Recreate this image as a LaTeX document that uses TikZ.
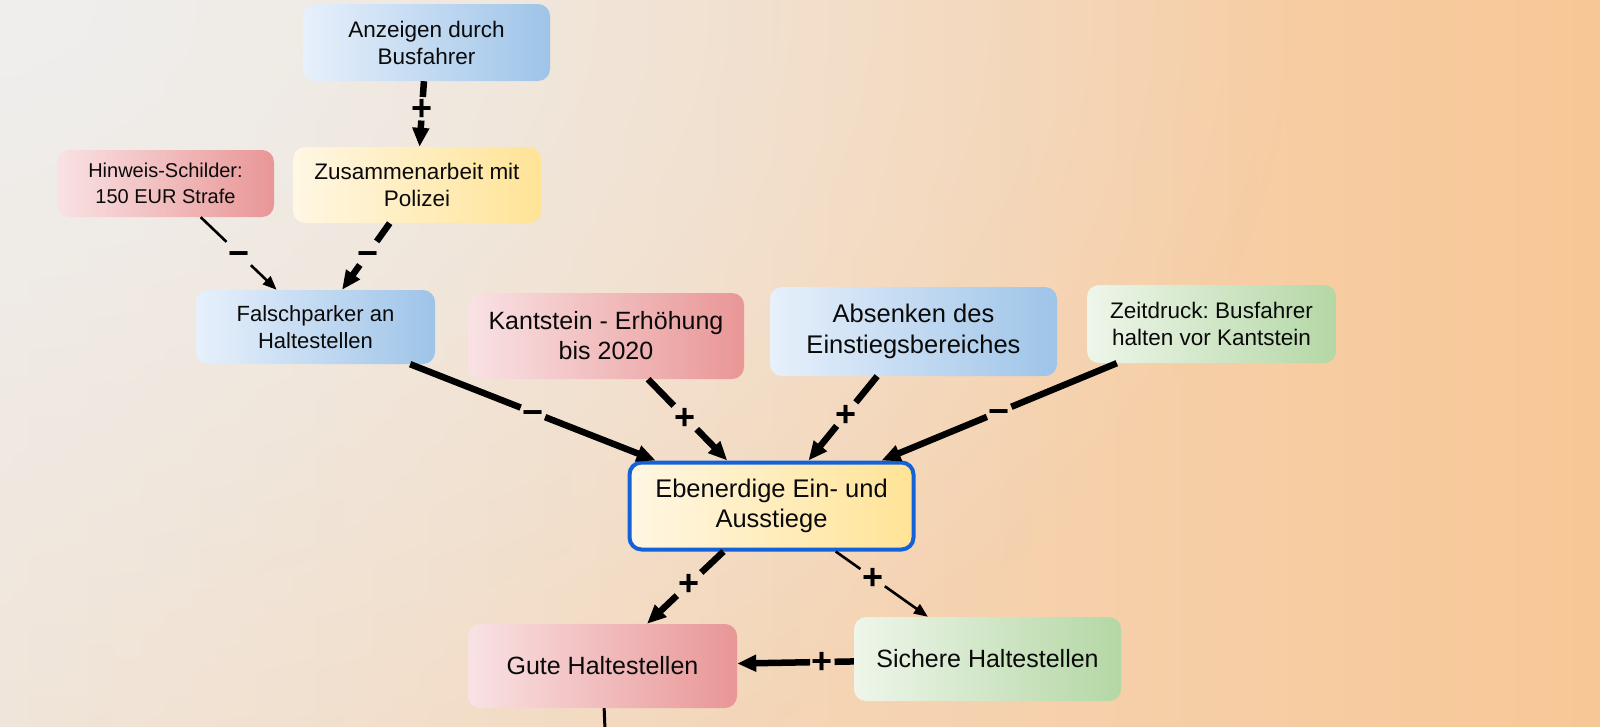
\documentclass[tikz,border=0pt]{standalone}
\usepackage{fontspec}
\setmainfont{Liberation Sans}
\frenchspacing
\usetikzlibrary{arrows.meta,fadings}
\tikzfading[name=tlfade, inner color=transparent!0, outer color=transparent!100]
\definecolor{bgL}{HTML}{F1E3D5}
\definecolor{bgR}{HTML}{F8C796}
\definecolor{bgW}{HTML}{EFEFEE}
\definecolor{blueL}{HTML}{E7F0FB}
\definecolor{blueR}{HTML}{9EC4E8}
\definecolor{redL}{HTML}{F9E2E4}
\definecolor{redR}{HTML}{E99696}
\definecolor{yelL}{HTML}{FFF7E4}
\definecolor{yelR}{HTML}{FFE396}
\definecolor{grnL}{HTML}{EEF6EA}
\definecolor{grnR}{HTML}{B4D7A5}
\definecolor{frameblue}{HTML}{1462DA}
\definecolor{txt}{HTML}{0A0A0A}
\newcommand{\pl}{\raisebox{-0.33em}[0.28em][0.28em]{+}}
\newcommand{\mi}{\raisebox{-0.33em}[0.28em][0.28em]{−}}
\begin{document}
\begin{tikzpicture}[x=1pt,y=-1pt,
  cbox/.style={rounded corners=12pt, align=center, inner sep=0pt, text=txt},
  bluebox/.style={cbox, left color=blueL, right color=blueR},
  redbox/.style={cbox, left color=redL, right color=redR},
  yelbox/.style={cbox, left color=yelL, right color=yelR},
  grnbox/.style={cbox, left color=grnL, right color=grnR},
  lbl/.style={font=\bfseries\fontsize{36}{36}\selectfont, inner sep=1.5pt, text=black},
  thk/.style={line width=6.5pt, draw=black},
  thn/.style={line width=2.6pt, draw=black},
  thkarr/.style={thk, -{Triangle[length=19pt,width=16pt]}},
  thnarr/.style={thn, -{Triangle[length=14pt,width=11pt]}},
]
\useasboundingbox (0,0) rectangle (1600,726);
% background
\shade[left color=bgL, right color=bgR] (0,0) rectangle (1600,726);
\begin{scope}
  \clip (0,0) rectangle (1600,726);
  \fill[bgW, path fading=tlfade] (0,0) ellipse [x radius=1300, y radius=900];
\end{scope}

% nodes
\node[bluebox, minimum width=247pt, minimum height=77pt, font=\fontsize{22.5}{27}\selectfont] (anz) at (426.5,42.5) {Anzeigen durch\\Busfahrer};
\node[yelbox, minimum width=248pt, minimum height=76pt, font=\fontsize{22.5}{27}\selectfont] (zus) at (417,185) {Zusammenarbeit mit\\Polizei};
\node[redbox, minimum width=217pt, minimum height=67pt, font=\fontsize{20}{26}\selectfont] (hin) at (165.5,183.5) {Hinweis-Schilder:\\150 EUR Strafe};
\node[bluebox, minimum width=239pt, minimum height=74pt, font=\fontsize{22}{26.5}\selectfont] (fal) at (315.5,327) {Falschparker an\\Haltestellen};
\node[redbox, minimum width=276pt, minimum height=86pt, font=\fontsize{25}{30}\selectfont] (kan) at (606,336) {Kantstein - Erhöhung\\bis 2020};
\node[bluebox, minimum width=287pt, minimum height=89pt, font=\fontsize{25.5}{30.5}\selectfont] (abs) at (913.5,331.5) {Absenken des\\Einstiegsbereiches};
\node[grnbox, minimum width=249pt, minimum height=78pt, font=\fontsize{22.5}{27.5}\selectfont] (zei) at (1211.5,324) {Zeitdruck: Busfahrer\\halten vor Kantstein};
\node[yelbox, draw=frameblue, line width=4pt, minimum width=284pt, minimum height=87pt, font=\fontsize{25.5}{30.5}\selectfont] (ebe) at (771.5,506) {Ebenerdige Ein- und\\Ausstiege};
\node[redbox, minimum width=269pt, minimum height=84pt, font=\fontsize{25}{30}\selectfont] (gut) at (602.5,666) {Gute Haltestellen};
\node[grnbox, minimum width=267pt, minimum height=84pt, font=\fontsize{25}{30}\selectfont] (sic) at (987.5,659) {Sichere Haltestellen};
\coordinate (gout) at (605,730);

% connector labels
\path (anz) -- node[lbl, pos=.42] (l1) {\pl} (zus);
\path (hin) -- node[lbl, pos=.5] (l2) {\mi} (fal);
\path (zus) -- node[lbl, pos=.45] (l3) {\mi} (fal);
\path (fal) -- node[lbl, pos=.5] (l4) {\mi} (ebe);
\path (kan) -- node[lbl, pos=.47] (l5) {\pl} (ebe);
\path (abs) -- node[lbl, pos=.45] (l6) {\pl} (ebe);
\path (zei) -- node[lbl, pos=.5] (l7) {\mi} (ebe);
\path (ebe) -- node[lbl, pos=.45] (l8) {\pl} (gut);
\path (ebe) -- node[lbl, pos=.4] (l9) {\pl} (sic);
\path (sic) -- node[lbl, pos=.27] (l10) {\pl} (gut);

% connectors
\draw[thk] (anz) -- (l1); \draw[thkarr] (l1) -- (zus);
\draw[thn] (hin) -- (l2); \draw[thnarr] (l2) -- (fal);
\draw[thk] (zus) -- (l3); \draw[thkarr] (l3) -- (fal);
\draw[thk] (fal) -- (l4); \draw[thkarr] (l4) -- (ebe);
\draw[thk] (kan) -- (l5); \draw[thkarr] (l5) -- (ebe);
\draw[thk] (abs) -- (l6); \draw[thkarr] (l6) -- (ebe);
\draw[thk] (zei) -- (l7); \draw[thkarr] (l7) -- (ebe);
\draw[thk] (ebe) -- (l8); \draw[thkarr] (l8) -- (gut);
\draw[thn] (ebe) -- (l9); \draw[thnarr] (l9) -- (sic);
\draw[thk] (sic) -- (l10); \draw[thkarr] (l10) -- (gut);
\draw[line width=3pt] (gut) -- (gout);
\end{tikzpicture}
\end{document}
